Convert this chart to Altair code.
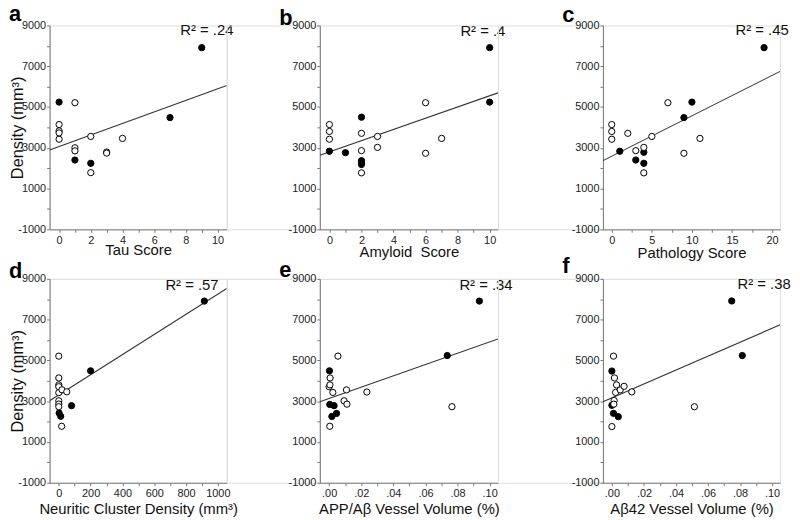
import altair as alt
import pandas as pd

FONT = "Liberation Sans"

# ---------------- data ----------------
# a: Tau score
tau_x = [0, 0, 0, 0, 0, 1, 1, 1, 1, 2, 2, 2, 3, 3, 4, 7, 9]
tau_y = [5240, 4140, 3830, 3730, 3420, 5210, 3000, 2850, 2400, 3555, 2240, 1780, 2790, 2740, 3460, 4480, 7910]
tau_f = [1, 0, 0, 0, 0, 0, 0, 0, 1, 0, 1, 0, 0, 0, 0, 1, 1]

# b: Amyloid score
amy_x = [0, 0, 0, 0, 1, 2, 2, 2, 2, 2, 2, 2, 3, 3, 6, 6, 7, 10, 10]
amy_y = [4140, 3800, 3420, 2830, 2760, 4500, 3710, 2860, 2370, 2270, 2180, 1770, 3555, 3020, 5210, 2730, 3460, 7910, 5240]
amy_f = [0, 0, 0, 1, 1, 1, 0, 0, 1, 1, 1, 0, 0, 0, 0, 0, 0, 1, 1]

# c: Pathology score
path_x = [0, 0, 0, 1, 2, 3, 3, 4, 4, 4, 4, 5, 7, 9, 9, 10, 11, 19]
path_y = [4140, 3800, 3420, 2830, 3710, 2860, 2400, 3020, 2780, 2240, 1770, 3555, 5210, 4480, 2730, 5240, 3460, 7910]
path_f = [0, 0, 0, 1, 0, 0, 1, 0, 1, 1, 0, 0, 0, 1, 0, 1, 0, 1]

# d: Neuritic cluster density
nc_x = [0, 0, 0, 0, 0, 20, 50, 0, 0, 0, 18, 200, 915, 80, 2, 12]
nc_y = [5210, 4140, 3800, 3710, 3420, 3560, 3460, 3020, 2860, 2730, 1770, 4490, 7910, 2780, 2420, 2260]
nc_f = [0, 0, 0, 0, 0, 0, 0, 0, 0, 0, 0, 1, 1, 1, 1, 1]

# e: APP/Abeta vessel volume
app_x = [0.0055, 0.0006, 0.0005, 0.0000, 0.0023, 0.0108, 0.0235, 0.0093, 0.0111, 0.0004, 0.0765,
         0.0002, 0.0004, 0.0031, 0.0046, 0.0017, 0.0736, 0.0936]
app_y = [5210, 4140, 3800, 3710, 3430, 3555, 3450, 3020, 2855, 1770, 2730,
         4490, 2840, 2780, 2400, 2250, 5240, 7910]
app_f = [0, 0, 0, 0, 0, 0, 0, 0, 0, 0, 0, 1, 1, 1, 1, 1, 1, 1]

# f: Abeta42 vessel volume
ab42_x = [0.0010, 0.0016, 0.0029, 0.0076, 0.0052, 0.0023, 0.0124, 0.0014, 0.0012, 0.0000, 0.0515,
          0.0000, 0.0000, 0.0010, 0.0040, 0.0748, 0.0814]
ab42_y = [5210, 4140, 3800, 3730, 3555, 3430, 3457, 3036, 2857, 1755, 2728,
          4480, 2800, 2404, 2242, 7914, 5240]
ab42_f = [0, 0, 0, 0, 0, 0, 0, 0, 0, 0, 0, 1, 1, 1, 1, 1, 1]

# regression lines: value at left and right end of each x axis
fit_a = [2890, 6050]
fit_b = [2630, 5694]
fit_c = [2371, 6747]
fit_d = [3020, 8530]
fit_e = [2970, 6050]
fit_f = [2970, 6747]

r2_labels = ["R\u00b2 = .24", "R\u00b2 = .4", "R\u00b2 = .45", "R\u00b2 = .57", "R\u00b2 = .34", "R\u00b2 = .38"]
letters = ["a", "b", "c", "d", "e", "f"]
x_titles = ["Tau Score", "Amyloid\u00a0 Score", "Pathology Score",
            "Neuritic Cluster Density (mm\u00b3)", "APP/A\u03b2 Vessel Volume (%)", "A\u03b242 Vessel Volume (%)"]
y_title = "Density (mm\u00b3)"

Y_TICKS = list(range(-1000, 9001, 1000))
Y_LABEL = "(datum.value + 1000) % 2000 == 0 ? '' + datum.value : ''"

PCT_LABEL = "round(datum.value * 100) % 2 == 0 ? replace(format(datum.value, '.2f'), '0.', '.') : ''"


def panel(xs, ys, fs, xdom, xvals, xlabel, xtitle, letter, r2, r2x, r2y, fit,
          show_ytitle, w, h, xtitle_y, letter_y):
    df = pd.DataFrame({"x": xs, "y": ys,
                       "kind": ["filled" if f else "open" for f in fs]})
    df = df.sort_values("kind").reset_index(drop=True)
    line_df = pd.DataFrame({"x": xdom, "y": fit})

    xscale = alt.Scale(domain=xdom, nice=False, zero=False)
    yscale = alt.Scale(domain=[-1000, 9000], nice=False, zero=False)
    xaxis = alt.Axis(values=xvals, labelExpr=xlabel, grid=False, tickSize=3,
                     labelPadding=2, labelFontSize=11, labelOverlap=False,
                     labelFlush=False, titleFontSize=15, titleFontWeight="normal",
                     titleY=xtitle_y, titleBaseline="alphabetic")
    yaxis = alt.Axis(values=Y_TICKS, labelExpr=Y_LABEL, grid=False, tickSize=3,
                     labelPadding=1, labelFontSize=11, labelOverlap=False,
                     labelFlush=False, titleFontSize=16.5, titleFontWeight="normal",
                     titleX=-24)
    ytitle = y_title if show_ytitle else None

    X = alt.X("x:Q", scale=xscale, axis=xaxis, title=xtitle)
    Y = alt.Y("y:Q", scale=yscale, axis=yaxis, title=ytitle)

    line = alt.Chart(line_df).mark_line(color="#333333", strokeWidth=1.1, clip=True).encode(x=X, y=Y)
    pts = alt.Chart(df).mark_circle(size=40, stroke="#000000", strokeWidth=1, opacity=1).encode(
        x=X, y=Y,
        fill=alt.Fill("kind:N", scale=alt.Scale(domain=["filled", "open"], range=["#000000", "#ffffff"]),
                      legend=None),
        order=alt.Order("kind:N"),
    )
    txt = alt.Chart(pd.DataFrame({"t": [r2]})).mark_text(
        align="left", baseline="middle", fontSize=15, font=FONT, color="#111111"
    ).encode(x=alt.value(r2x), y=alt.value(r2y), text="t:N")
    let = alt.Chart(pd.DataFrame({"t": [letter]})).mark_text(
        align="left", baseline="alphabetic", fontSize=22, fontWeight="bold", font=FONT, color="#000000"
    ).encode(x=alt.value(-41), y=alt.value(letter_y), text="t:N")

    return alt.layer(line, pts, txt, let).properties(width=w, height=h)


def spacer(w, h):
    return alt.Chart(pd.DataFrame({"v": [0]})).mark_point(opacity=0).encode(
        x=alt.value(0), y=alt.value(0)
    ).properties(width=w, height=h)


H = 206
int_vals = list(range(0, 11))
even_label = "datum.value % 2 == 0 ? '' + datum.value : ''"

pa = panel(tau_x, tau_y, tau_f, [-0.6, 10.58], int_vals, even_label, x_titles[0], letters[0],
           r2_labels[0], 132, 5, fit_a, True, 179, H, 25, -4)
pb = panel(amy_x, amy_y, amy_f, [-0.6, 10.52], int_vals, even_label, x_titles[1], letters[1],
           r2_labels[1], 142, 6, fit_b, False, 180, H, 27, 0)
pc = panel(path_x, path_y, path_f, [-1.1, 21.0], [0, 2.5, 5, 7.5, 10, 12.5, 15, 17.5, 20],
           "datum.value % 5 == 0 ? '' + datum.value : ''", x_titles[2], letters[2],
           r2_labels[2], 134, 5, fit_c, False, 179, H, 28, -3)
pd_ = panel(nc_x, nc_y, nc_f, [-58, 1056], list(range(0, 1001, 100)),
            "datum.value % 200 == 0 ? '' + datum.value : ''", x_titles[3], letters[3],
            r2_labels[3], 117, 6, fit_d, True, 179, H, 31, -1)
pe = panel(app_x, app_y, app_f, [-0.0058, 0.1052], [i / 100 for i in range(0, 11)], PCT_LABEL,
           x_titles[4], letters[4], r2_labels[4], 141, 6, fit_e, False, 180, H, 31, -2)
pf = panel(ab42_x, ab42_y, ab42_f, [-0.0056, 0.105], [i / 100 for i in range(0, 11)], PCT_LABEL,
           x_titles[5], letters[5], r2_labels[5], 136, 5, fit_f, False, 179, H, 31, -6)

cells = [pa, spacer(94, H), pb, spacer(106, H), pc,
         pd_, spacer(94, H), pe, spacer(106, H), pf]

chart = alt.concat(*cells, columns=5, spacing={"row": 50, "column": 0},
                   bounds="flush", align="each").properties(
    padding={"left": 0, "top": -8, "right": 0, "bottom": 0},
).configure_view(stroke=None).configure(
    font=FONT,
).configure_axis(
    domainColor="#777777", tickColor="#777777", labelColor="#222222", titleColor="#111111",
    labelFont=FONT, titleFont=FONT,
)

chart.save("out.html", embed_options={"renderer": "svg", "actions": False})
